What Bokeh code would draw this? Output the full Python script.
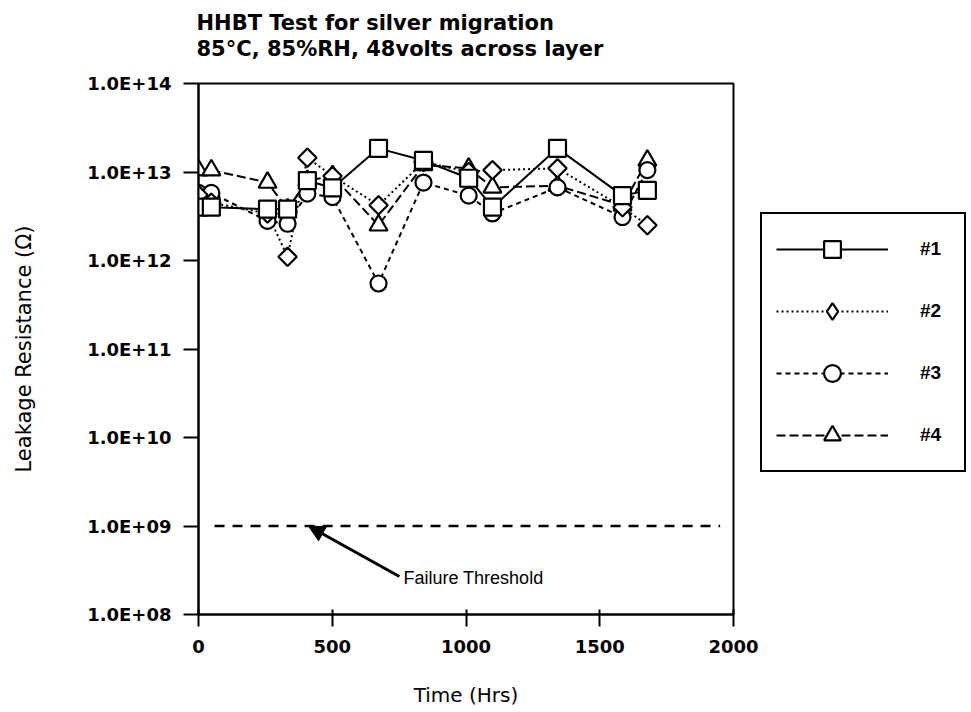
import math
from bokeh.plotting import figure
from bokeh.layouts import row
from bokeh.models import (Range1d, FixedTicker, CustomJSTickFormatter, Label, Arrow,
                          NormalHead, Legend, LegendItem, Title)
from bokeh.embed import file_html
from bokeh.resources import INLINE

# ---------------- data ----------------
time_hrs = [0, 48, 258, 333, 407, 501, 673, 841, 1010, 1099, 1342, 1585, 1678]
series_1 = [4.0e12, 4.0e12, 3.8e12, 3.8e12, 8.0e12, 6.6e12, 1.85e13, 1.35e13, 8.5e12, 4.0e12, 1.85e13, 5.4e12, 6.2e12]
series_2 = [5.5e12, 4.5e12, 3.4e12, 1.1e12, 1.45e13, 9.0e12, 4.2e12, 1.3e13, 1.0e13, 1.05e13, 1.1e13, 4.0e12, 2.5e12]
series_3 = [5.8e12, 5.8e12, 2.8e12, 2.6e12, 5.7e12, 5.2e12, 5.5e11, 7.6e12, 5.4e12, 3.4e12, 6.7e12, 3.1e12, 1.05e13]
series_4 = [1.05e13, 1.05e13, 7.6e12, 3.8e12, 8.0e12, 9.0e12, 2.5e12, 1.2e13, 1.1e13, 6.7e12, 7.0e12, 4.2e12, 1.35e13]
series_names = ["#1", "#2", "#3", "#4"]

x_ticks = [0, 500, 1000, 1500, 2000]
y_ticks = [1e8, 1e9, 1e10, 1e11, 1e12, 1e13, 1e14]
y_tick_labels = ["1.0E+08", "1.0E+09", "1.0E+10", "1.0E+11", "1.0E+12", "1.0E+13", "1.0E+14"]

threshold_value = 1e9
threshold_x = [60, 1950]

title_1 = "HHBT Test for silver migration"
title_2 = "85°C, 85%RH, 48volts across layer"
x_label = "Time (Hrs)"
y_label = "Leakage Resistance (Ω)"
threshold_label = "Failure Threshold"

# ---------------- main figure ----------------
H = 712
P_W = 759
TOP, BOTTOM = 83, 98
p = figure(width=P_W, height=H, x_range=Range1d(0, 2000), y_range=Range1d(1e8, 1e14),
           y_axis_type="log", output_backend="svg", toolbar_location=None,
           min_border_left=198, min_border_right=P_W - 733, min_border_top=TOP, min_border_bottom=BOTTOM)

p.xgrid.visible = False
p.ygrid.visible = False
p.outline_line_color = "black"
p.outline_line_width = 2
p.outline_line_alpha = 1
p.background_fill_color = "white"
p.border_fill_color = "white"

BOLD_FONT = "DejaVu Sans"

p.xaxis.ticker = FixedTicker(ticks=x_ticks)
p.xaxis.minor_tick_line_color = None
p.xaxis.axis_line_width = 2
p.xaxis.major_tick_line_width = 2
p.xaxis.major_tick_out = 12
p.xaxis.major_tick_in = 5
p.xaxis.major_label_standoff = 13
p.xaxis.major_label_text_font = BOLD_FONT
p.xaxis.major_label_text_font_style = "bold"
p.xaxis.major_label_text_font_size = "18px"
p.xaxis.major_label_text_color = "black"
p.xaxis.axis_label = x_label
p.xaxis.axis_label_standoff = 27
p.xaxis.axis_label_text_font = "DejaVu Sans"
p.xaxis.axis_label_text_font_style = "normal"
p.xaxis.axis_label_text_font_size = "20px"
p.xaxis.axis_label_text_color = "black"

p.yaxis.ticker = FixedTicker(ticks=y_ticks)
p.yaxis.formatter = CustomJSTickFormatter(args=dict(vals=y_ticks, labels=y_tick_labels), code="""
for (let i = 0; i < vals.length; i++) {
  if (Math.abs(Math.log10(tick) - Math.log10(vals[i])) < 1e-6) return labels[i];
}
return "";
""")
p.yaxis.minor_tick_line_color = None
p.yaxis.axis_line_width = 2
p.yaxis.major_tick_line_width = 2
p.yaxis.major_tick_out = 15
p.yaxis.major_tick_in = 0
p.yaxis.major_label_standoff = 12
p.yaxis.major_label_text_font = BOLD_FONT
p.yaxis.major_label_text_font_style = "bold"
p.yaxis.major_label_text_font_size = "18px"
p.yaxis.major_label_text_color = "black"
p.yaxis.axis_label = y_label
p.yaxis.axis_label_standoff = 48
p.yaxis.axis_label_text_font = "DejaVu Sans"
p.yaxis.axis_label_text_font_style = "normal"
p.yaxis.axis_label_text_font_size = "21px"
p.yaxis.axis_label_text_color = "black"

# titles: spacer next to the frame, then the two title lines stacked upward
p.add_layout(Title(text=" ", text_font_size="1px", standoff=20), "above")
p.add_layout(Title(text=title_2, align="left", offset=-2, standoff=0, text_font=BOLD_FONT,
                   text_font_style="bold", text_font_size="21px", text_color="black"), "above")
p.add_layout(Title(text=title_1, align="left", offset=-2, standoff=0, text_font=BOLD_FONT,
                   text_font_style="bold", text_font_size="21px", text_color="black"), "above")

# ---------------- series ----------------
all_series = [series_1, series_2, series_3, series_4]
dashes = ["solid", "2 3", "5 4", "9 4"]
markers = ["square", "square", "circle", "triangle"]
angles = [0, math.pi / 4, 0, 0]
sizes = [17, 13, 16, 18]

for s, d in zip(all_series, dashes):
    p.line(time_hrs, s, line_color="black", line_width=2, line_dash=d)

for i in [3, 2, 1, 0]:
    p.scatter(time_hrs, all_series[i], marker=markers[i], size=sizes[i], angle=angles[i],
              fill_color="white", line_color="black", line_width=2.2)

# threshold
p.line(threshold_x, [threshold_value, threshold_value], line_color="black",
       line_width=2.5, line_dash="10 8")

p.add_layout(Arrow(end=NormalHead(size=16, fill_color="black", line_color="black"),
                   x_start=751, y_start=10 ** 8.43, x_end=411, y_end=threshold_value,
                   line_width=3, line_color="black"))
p.add_layout(Label(x=766, y=10 ** 8.418, text=threshold_label, text_align="left",
                   text_baseline="middle", text_font="Liberation Sans",
                   text_font_size="18px", text_color="black"))

# ---------------- legend panel (same frame top/bottom as the main plot) ----------------
L_W = 971 - P_W
q = figure(width=L_W, height=H, x_range=Range1d(0, 1), y_range=Range1d(0, 1),
           output_backend="svg", toolbar_location=None,
           x_axis_location=None, y_axis_location=None,
           min_border_left=0, min_border_right=0, min_border_top=TOP, min_border_bottom=BOTTOM)
q.grid.visible = False
q.outline_line_color = None
q.background_fill_color = "white"
q.border_fill_color = "white"

# legend proxies: the series themselves, which fall far outside this panel's ranges
legend_markers = ["square", "diamond", "circle", "triangle"]
items = []
for i in range(4):
    lr = q.line(time_hrs, all_series[i], line_color="black", line_width=2, line_dash=dashes[i])
    mr = q.scatter(time_hrs, all_series[i], marker=legend_markers[i], size=16, fill_color="white",
                   line_color="black", line_width=2.2)
    items.append(LegendItem(label=series_names[i], renderers=[lr, mr]))

legend = Legend(items=items, location=(1, 142), orientation="vertical", margin=0,
                glyph_width=112, glyph_height=42, label_height=42, label_width=30,
                spacing=20, padding=14, label_standoff=32,
                border_line_color="black", border_line_width=2, border_line_alpha=1,
                background_fill_color="white", background_fill_alpha=1,
                label_text_font="Liberation Sans", label_text_font_style="bold",
                label_text_font_size="19px", label_text_color="black")
q.add_layout(legend)

layout = row(p, q, spacing=0)
open("out.html", "w").write(file_html(layout, INLINE))
